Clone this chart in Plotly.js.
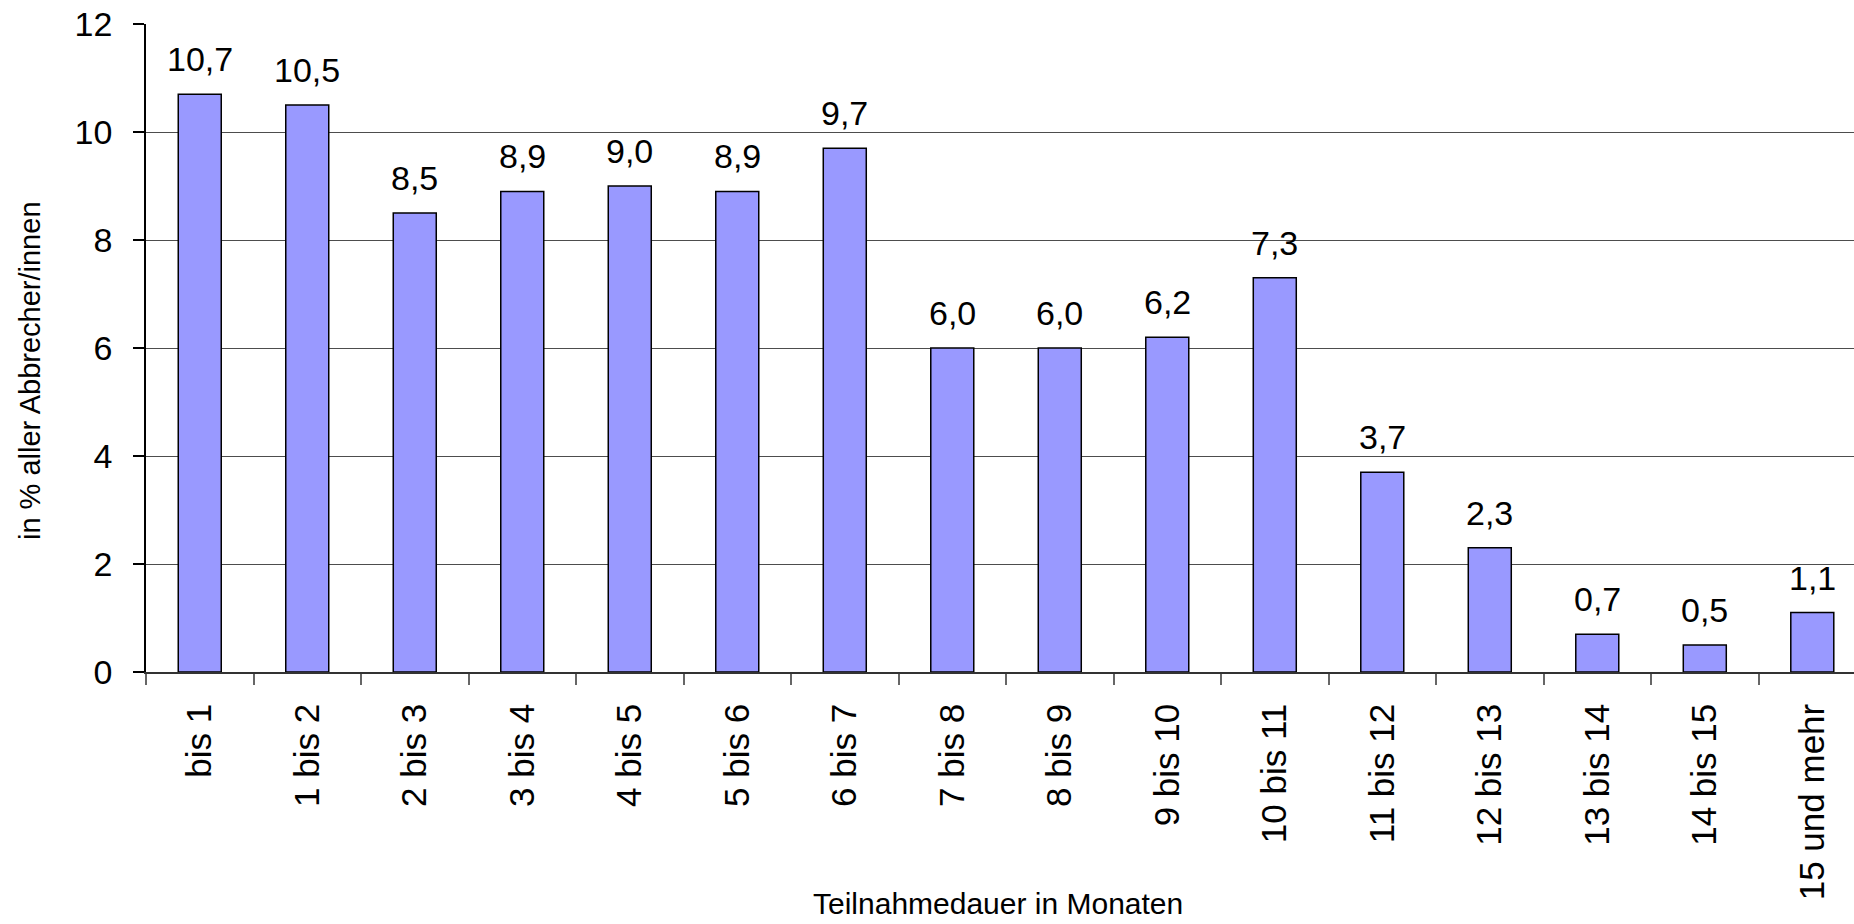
<!DOCTYPE html>
<html>
<head>
<meta charset="utf-8">
<script src="https://cdn.plot.ly/plotly-3.0.1.min.js"></script>
<style>
  html, body { margin: 0; padding: 0; background: #fff; }
  #chart { width: 1854px; height: 924px; }
</style>
</head>
<body>
<div id="chart"></div>
<script>
// Data
const categories = ["bis 1", "1 bis 2", "2 bis 3", "3 bis 4", "4 bis 5", "5 bis 6", "6 bis 7",
  "7 bis 8", "8 bis 9", "9 bis 10", "10 bis 11", "11 bis 12", "12 bis 13", "13 bis 14",
  "14 bis 15", "15 und mehr"];
const values = [10.7, 10.5, 8.5, 8.9, 9.0, 8.9, 9.7, 6.0, 6.0, 6.2, 7.3, 3.7, 2.3, 0.7, 0.5, 1.1];
const yTickValues = [0, 2, 4, 6, 8, 10, 12];

const xTitle = "Teilnahmedauer in Monaten";
const yTitle = "in % aller Abbrecher/innen";

const FONT = "Liberation Sans, Arial, sans-serif";

const valueLabels = values.map(v => v.toFixed(1).replace(".", ","));

const trace = {
  type: "bar",
  x: categories,
  y: values,
  marker: { color: "#9999FF", line: { color: "#000000", width: 1.5 } },
  hoverinfo: "x+y"
};

const annotations = categories.map((c, i) => ({
  x: c, y: values[i], xref: "x", yref: "y",
  text: valueLabels[i], showarrow: false,
  xanchor: "center", yanchor: "bottom", yshift: 14,
  font: { family: FONT, size: 34, color: "#000" }
}));

annotations.push({
  xref: "paper", yref: "paper", x: 0.4988, y: -0.3865,
  text: xTitle, showarrow: false, xanchor: "center", yanchor: "bottom",
  font: { family: FONT, size: 30, color: "#000" }
});
annotations.push({
  xref: "paper", yref: "paper", x: -0.0679, y: 0.4645,
  text: yTitle, showarrow: false, textangle: -90, xanchor: "center", yanchor: "middle",
  font: { family: FONT, size: 29, color: "#000" }
});

const layout = {
  width: 1854, height: 924,
  margin: { l: 146, r: 0, t: 24, b: 252, pad: 0 },
  paper_bgcolor: "#ffffff", plot_bgcolor: "#ffffff",
  showlegend: false,
  bargap: 0.6,
  font: { family: FONT, size: 34, color: "#000" },
  xaxis: {
    type: "category",
    range: [-0.5, 15.388],
    tickson: "boundaries",
    ticks: "outside", ticklen: 11, tickcolor: "#666666", tickwidth: 1.5,
    tickangle: -90,
    ticklabelstandoff: 16,
    tickfont: { family: FONT, size: 35, color: "#000" },
    showline: true, linecolor: "#333333", linewidth: 1.5,
    showgrid: false, zeroline: false, fixedrange: true
  },
  yaxis: {
    range: [0, 12],
    tickvals: yTickValues,
    ticks: "outside", ticklen: 11, tickcolor: "#000000", tickwidth: 1.5,
    ticklabelstandoff: 14,
    tickfont: { family: FONT, size: 34, color: "#000" },
    showline: true, linecolor: "#000000", linewidth: 1.5,
    showgrid: true, gridcolor: "#4d4d4d", gridwidth: 1,
    zeroline: false, fixedrange: true
  },
  annotations: annotations
};

Plotly.newPlot("chart", [trace], layout, { displayModeBar: false });
</script>
</body>
</html>
